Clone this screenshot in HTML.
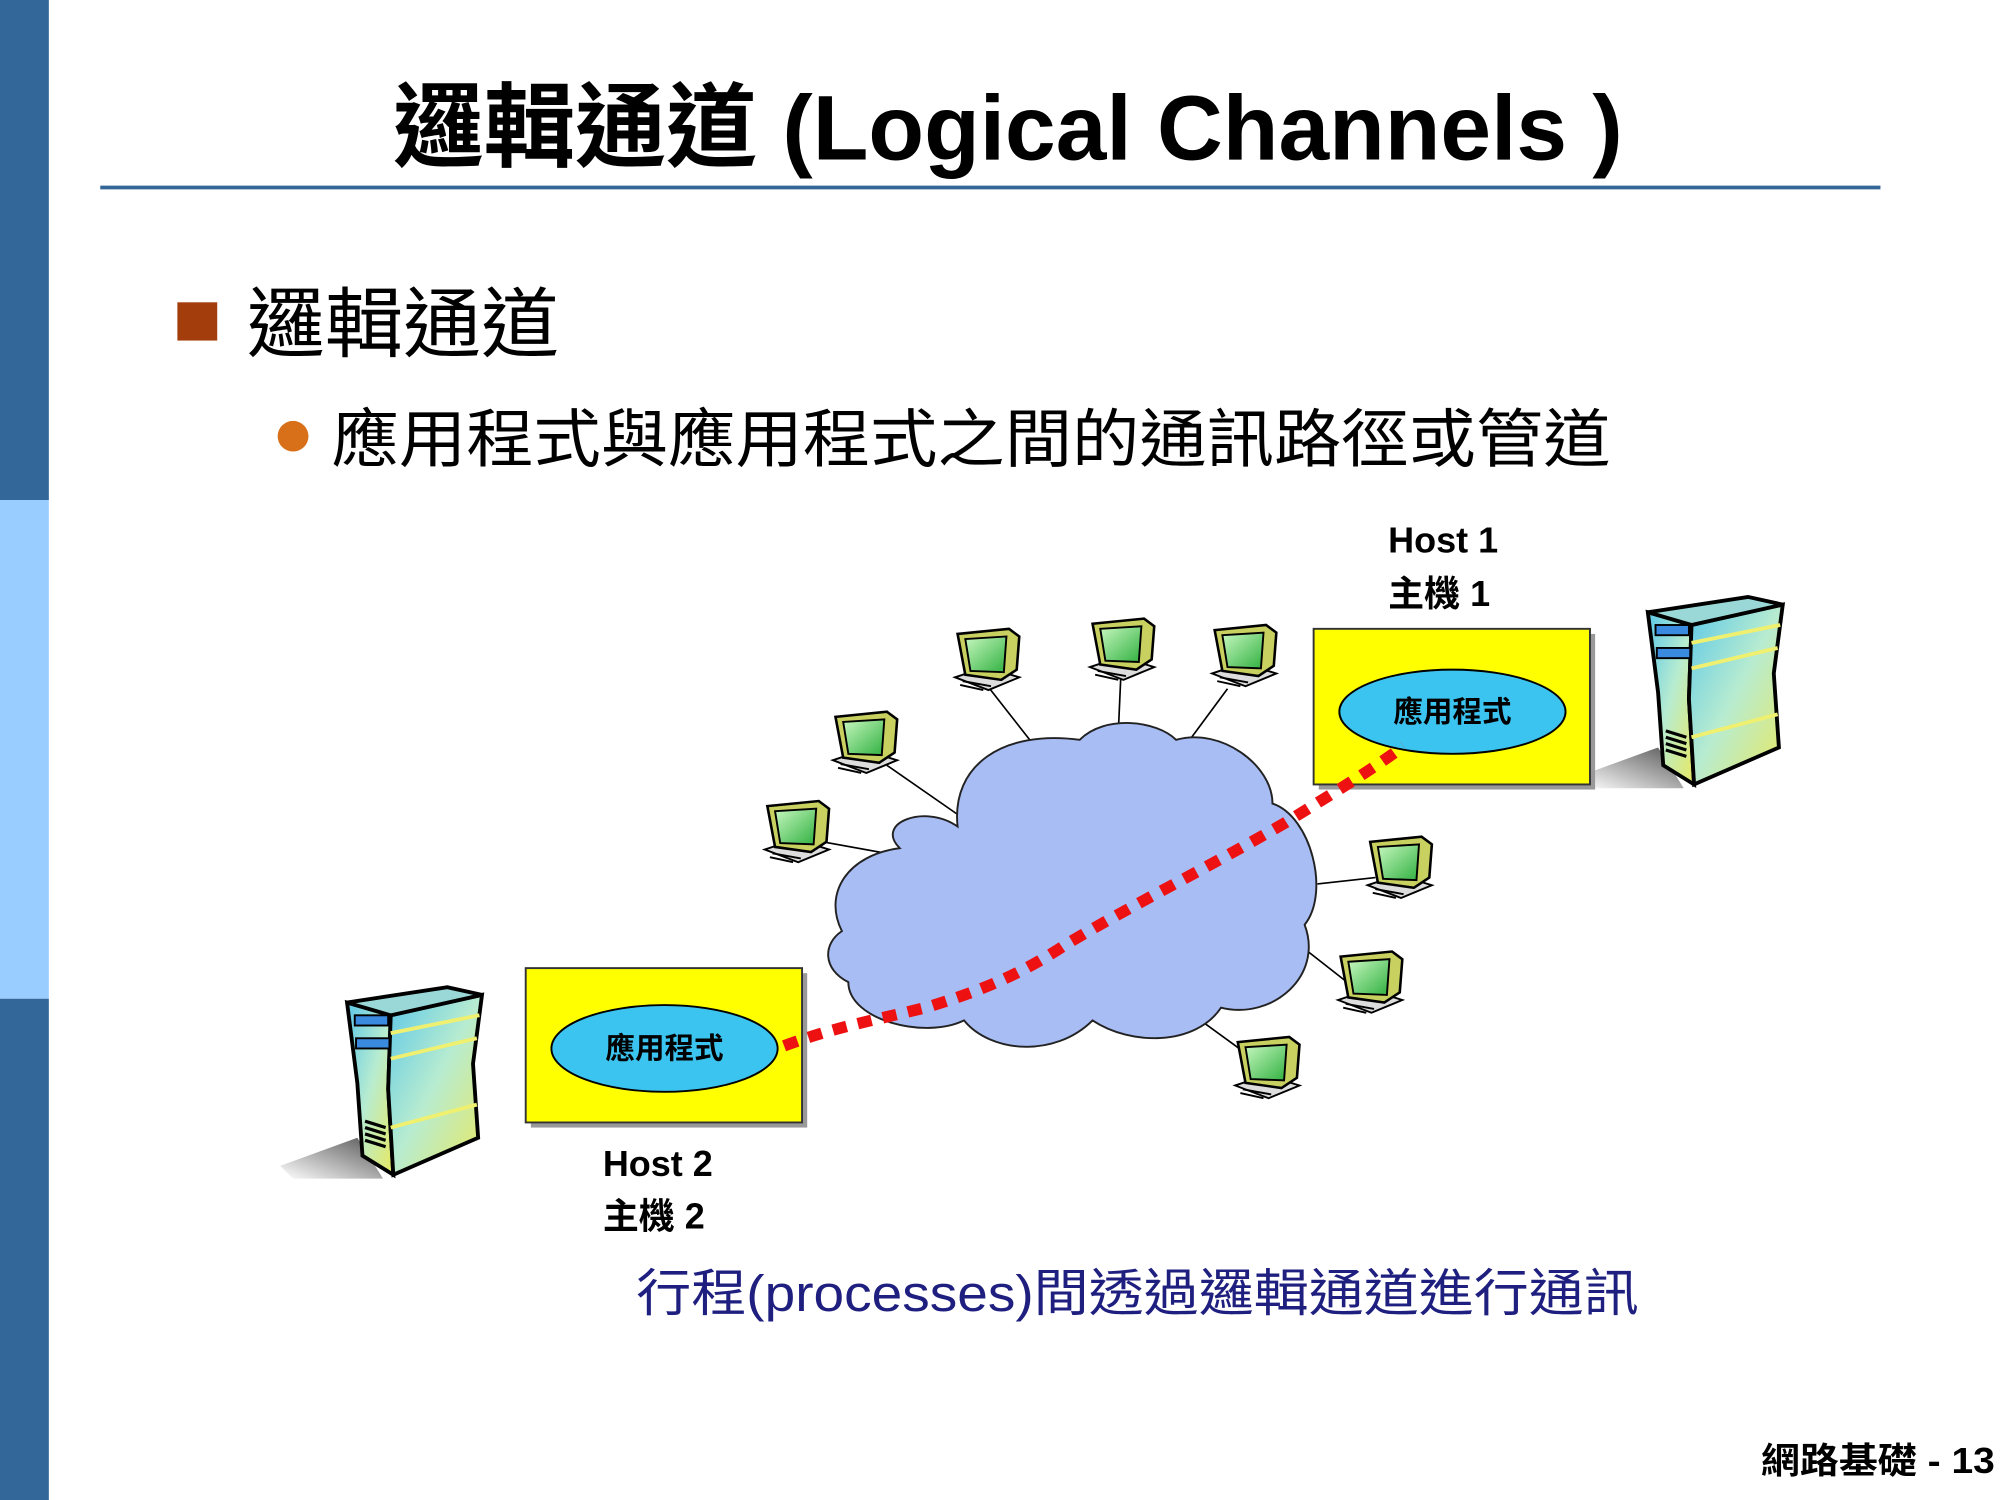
<!DOCTYPE html>
<html><head><meta charset="utf-8"><style>
html,body{margin:0;padding:0;background:#fff}
svg{display:block}
text{font-family:"Liberation Sans","Noto Sans CJK TC",sans-serif}
</style></head><body>
<svg width="2000" height="1500" viewBox="0 0 1556 1176" preserveAspectRatio="none" xmlns="http://www.w3.org/2000/svg">
<defs>
<linearGradient id="srv" x1="0" y1="0" x2="1" y2="1">
<stop offset="0" stop-color="#5cc8e8"/><stop offset="0.5" stop-color="#b8ecd0"/><stop offset="1" stop-color="#e8e860"/>
</linearGradient>
<linearGradient id="sh" x1="1" y1="0" x2="0" y2="1">
<stop offset="0" stop-color="#555"/><stop offset="1" stop-color="#fff"/>
</linearGradient>
<linearGradient id="scr" x1="0" y1="0" x2="1" y2="1">
<stop offset="0" stop-color="#c8f8c0"/><stop offset="1" stop-color="#30b040"/>
</linearGradient>
<g id="server">
<polygon points="10,118 -50,140 -40,150 30,150" fill="url(#sh)"/>
<polygon points="2,12 36,22 34,80 38,147 14,132 10,75" fill="url(#srv)" stroke="#000" stroke-width="3"/>
<polygon points="36,22 107,6 100,60 104,118 38,147 34,80" fill="url(#srv)" stroke="#000" stroke-width="3"/>
<polygon points="2,12 80,0 107,6 36,22" fill="#9ad8d8" stroke="#000" stroke-width="3"/>
<rect x="8" y="22" width="26" height="8" fill="#3a8ae0" stroke="#000" stroke-width="1.5"/>
<rect x="9" y="40" width="26" height="8" fill="#3a8ae0" stroke="#000" stroke-width="1.5"/>
<path d="M36,36 L105,22 M36,56 L103,40 M36,110 L103,92" stroke="#f0f070" stroke-width="3"/>
<path d="M16,105 L32,110 M16,110 L32,115 M16,115 L32,120 M16,120 L32,125" stroke="#000" stroke-width="2.5"/>
</g>
<g id="pc">
<polygon points="-2,38 22,30 48,38 24,48" fill="#ddd" stroke="#000" stroke-width="1.5"/>
<polygon points="0,4 40,0 48,6 46,32 34,40 6,36" fill="#c8d060" stroke="#000" stroke-width="2"/>
<polygon points="6,8 38,6 36,34 10,33" fill="url(#scr)" stroke="#000" stroke-width="1.5"/>
<path d="M2,44 L20,48 M4,41 L26,45" stroke="#000" stroke-width="1.5"/>
</g>
</defs>
<rect x="0" y="0" width="38" height="392" fill="#336699"/>
<rect x="0" y="392" width="38" height="391" fill="#99ccff"/>
<rect x="0" y="783" width="38" height="393" fill="#336699"/>

<text x="784" y="125" font-size="72" font-weight="bold" text-anchor="middle" textLength="957" lengthAdjust="spacingAndGlyphs" fill="#000">邏輯通道 (Logical Channels )</text>
<line x1="78" y1="147" x2="1463" y2="147" stroke="#336699" stroke-width="3"/>

<rect x="138" y="237" width="31" height="30" fill="#a33d0c"/>
<text x="192" y="275" font-size="60" textLength="243" lengthAdjust="spacingAndGlyphs">邏輯通道</text>
<circle cx="228" cy="342" r="12" fill="#d8701a"/>
<text x="258" y="362" font-size="50" textLength="995" lengthAdjust="spacingAndGlyphs">應用程式與應用程式之間的通訊路徑或管道</text>

<g stroke="#000" stroke-width="1.3">
<line x1="770" y1="540" x2="805" y2="585"/>
<line x1="872" y1="530" x2="870" y2="575"/>
<line x1="955" y1="540" x2="922" y2="585"/>
<line x1="690" y1="600" x2="750" y2="642"/>
<line x1="640" y1="660" x2="695" y2="670"/>
<line x1="1070" y1="688" x2="1025" y2="693"/>
<line x1="1048" y1="770" x2="1010" y2="740"/>
<line x1="975" y1="830" x2="930" y2="797"/>
</g>

<path d="M700,665 C680,645 720,630 745,648 C740,600 780,572 840,580 C860,560 900,565 915,580 C950,570 990,600 990,630 C1020,640 1035,700 1015,725 C1030,765 990,800 950,790 C930,820 880,820 850,800 C820,830 770,825 750,800 C720,815 660,800 660,770 C640,760 640,740 655,730 C640,700 660,670 700,665 Z" fill="#a9bdf5" stroke="#222" stroke-width="1.5"/>

<use href="#pc" x="745" y="493"/>
<use href="#pc" x="850" y="485"/>
<use href="#pc" x="945" y="490"/>
<use href="#pc" x="650" y="558"/>
<use href="#pc" x="597" y="628"/>
<use href="#pc" x="1066" y="656"/>
<use href="#pc" x="1043" y="746"/>
<use href="#pc" x="963" y="813"/>

<use href="#server" x="1280" y="468"/>
<use href="#server" x="268" y="774"/>

<rect x="1026" y="497" width="215" height="122" fill="#999"/>
<rect x="1022" y="493" width="215" height="122" fill="#ffff00" stroke="#333" stroke-width="1.5"/>
<ellipse cx="1130" cy="558" rx="88" ry="33" fill="#3cc4f0" stroke="#000" stroke-width="1.5"/>
<text x="1130" y="566" font-size="23" font-weight="bold" text-anchor="middle">應用程式</text>

<rect x="413" y="763" width="215" height="121" fill="#999"/>
<rect x="409" y="759" width="215" height="121" fill="#ffff00" stroke="#333" stroke-width="1.5"/>
<ellipse cx="517" cy="822" rx="88" ry="34" fill="#3cc4f0" stroke="#000" stroke-width="1.5"/>
<text x="517" y="830" font-size="23" font-weight="bold" text-anchor="middle">應用程式</text>

<path d="M610,820 C650,805 680,800 720,790 C770,775 800,760 830,740 C880,710 940,680 1000,645 C1040,620 1065,605 1092,585" fill="none" stroke="#ee1111" stroke-width="9" stroke-dasharray="11 9"/>

<text x="1080" y="433" font-size="28" font-weight="bold">Host 1</text>
<text x="1080" y="475" font-size="28" font-weight="bold">主機 1</text>
<text x="469" y="922" font-size="28" font-weight="bold">Host 2</text>
<text x="469" y="963" font-size="28" font-weight="bold">主機 2</text>

<text x="495" y="1028" font-size="40" fill="#1f1f80" textLength="780" lengthAdjust="spacingAndGlyphs">行程(processes)間透過邏輯通道進行通訊</text>
<text x="1370" y="1155" font-size="28" font-weight="bold" textLength="182" lengthAdjust="spacingAndGlyphs">網路基礎 - 13</text>
</svg>
</body></html>
